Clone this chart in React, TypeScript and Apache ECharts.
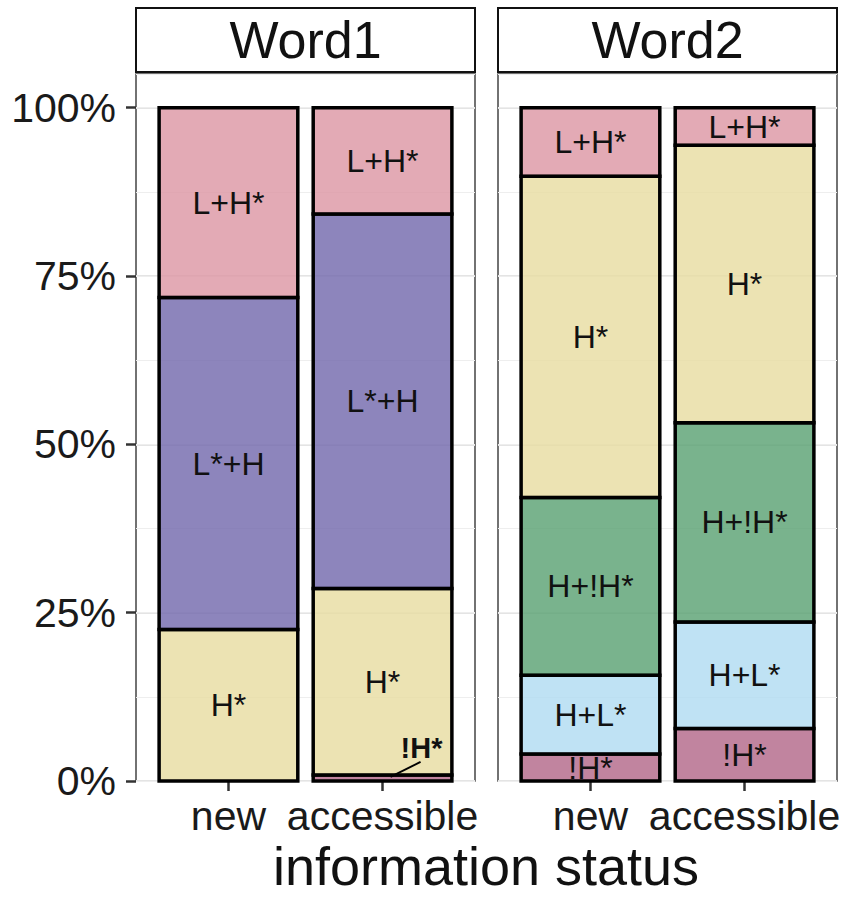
import React, { useEffect, useRef } from "react";
import * as echarts from "echarts";

const categories = ["new", "accessible"];
const facets = ["Word1", "Word2"];
const tones = ["!H*", "H+L*", "H+!H*", "H*", "L*+H", "L+H*"];
const tickValues = [0, 25, 50, 75, 100];

// percentages per category (new, accessible), stacked bottom to top
const word1_exclH = [0, 0.9];
const word1_HL = [0, 0];
const word1_HexclH = [0, 0];
const word1_H = [22.5, 27.7];
const word1_LsH = [49.3, 55.6];
const word1_LHs = [28.2, 15.8];

const word2_exclH = [4.0, 7.8];
const word2_HL = [11.7, 15.8];
const word2_HexclH = [26.4, 29.6];
const word2_H = [47.7, 41.2];
const word2_LsH = [0, 0];
const word2_LHs = [10.2, 5.6];

const toneColors: Record<string, string> = {
  "!H*": "rgba(178,101,135,0.8)",
  "H+L*": "rgba(175,219,241,0.8)",
  "H+!H*": "rgba(88,160,113,0.8)",
  "H*": "rgba(231,220,160,0.8)",
  "L*+H": "rgba(113,103,171,0.8)",
  "L+H*": "rgba(220,149,163,0.8)",
};

const FONT = "'Liberation Sans', Arial, sans-serif";

export default function App() {
  const ref = useRef<HTMLDivElement>(null);

  useEffect(() => {
    if (!ref.current) return;
    const chart = echarts.init(ref.current, null, { renderer: "svg" });

    const wordData = [
      [word1_exclH, word1_HL, word1_HexclH, word1_H, word1_LsH, word1_LHs],
      [word2_exclH, word2_HL, word2_HexclH, word2_H, word2_LsH, word2_LHs],
    ];

    // build stacked segments [categoryIndex, low, high, toneIndex]
    const segments = wordData.map((vals) => {
      const items: number[][] = [];
      categories.forEach((_, ci) => {
        let cum = 0;
        tones.forEach((_, ti) => {
          const v = vals[ti][ci];
          if (v > 0) {
            items.push([ci, cum, cum + v, ti]);
            cum += v;
          }
        });
      });
      return items;
    });

    const panels = [
      { left: 136, width: 339 },
      { left: 498, width: 339 },
    ];
    const top = 74;
    const height = 707;

    const grids: any[] = [];
    const xAxes: any[] = [];
    const yAxes: any[] = [];

    panels.forEach((p, gi) => {
      const unit = p.width / 2.2;
      grids.push({
        left: p.left,
        top,
        width: p.width,
        height,
        show: true,
        borderColor: "#444",
        borderWidth: 1.5,
        backgroundColor: "transparent",
      });
      grids.push({
        left: p.left + 0.1 * unit,
        top,
        width: 2 * unit,
        height,
        show: false,
      });

      const panelGrid = gi * 2;
      const barGrid = gi * 2 + 1;

      xAxes.push({
        type: "value",
        gridIndex: panelGrid,
        min: 0,
        max: 1,
        show: false,
      });
      xAxes.push({
        type: "category",
        gridIndex: barGrid,
        data: categories,
        boundaryGap: true,
        axisLine: { show: false },
        splitLine: { show: false },
        axisTick: {
          show: true,
          alignWithLabel: true,
          length: 10,
          lineStyle: { color: "#333", width: 2.5 },
        },
        axisLabel: {
          fontSize: 41,
          fontFamily: FONT,
          color: "#1a1a1a",
          margin: 14,
          interval: 0,
        },
      });

      yAxes.push({
        type: "value",
        gridIndex: panelGrid,
        min: 0,
        max: 105,
        interval: 25,
        axisLine: { show: false },
        axisTick: {
          show: gi === 0,
          customValues: tickValues,
          length: 10,
          lineStyle: { color: "#333", width: 2.5 },
        },
        axisLabel: {
          show: gi === 0,
          customValues: tickValues,
          formatter: (v: number) => (v > 100 ? "" : v + "%"),
          fontSize: 41,
          fontFamily: FONT,
          color: "#1a1a1a",
          margin: 20,
        },
        splitLine: { show: true, lineStyle: { color: "#e4e4e4", width: 2 } },
      });
      yAxes.push({
        type: "value",
        gridIndex: panelGrid,
        min: 0,
        max: 105,
        interval: 12.5,
        axisLine: { show: false },
        axisTick: { show: false },
        axisLabel: { show: false },
        splitLine: { show: true, lineStyle: { color: "#eeeeee", width: 1 } },
      });
      yAxes.push({
        type: "value",
        gridIndex: barGrid,
        min: 0,
        max: 105,
        interval: 25,
        axisLine: { show: false },
        axisTick: { show: false },
        axisLabel: { show: false },
        splitLine: { show: false },
      });
    });

    const series: any[] = [];
    segments.forEach((items, gi) => {
      series.push({
        type: "custom",
        name: facets[gi] + " bars",
        xAxisIndex: gi * 2 + 1,
        yAxisIndex: gi * 3 + 2,
        encode: { x: 0, y: [1, 2] },
        data: items,
        z: 2,
        renderItem: (_params: any, api: any) => {
          const ci = api.value(0);
          const p0 = api.coord([ci, api.value(1)]);
          const p1 = api.coord([ci, api.value(2)]);
          const bw = api.size([1, 0])[0] * 0.9;
          const ti = api.value(3);
          return {
            type: "rect",
            shape: { x: p0[0] - bw / 2, y: p1[1], width: bw, height: p0[1] - p1[1] },
            style: { fill: toneColors[tones[ti]], stroke: "#000", lineWidth: 3.5 },
          };
        },
      });
      series.push({
        type: "custom",
        name: facets[gi] + " labels",
        xAxisIndex: gi * 2 + 1,
        yAxisIndex: gi * 3 + 2,
        encode: { x: 0, y: [1, 2] },
        data: items,
        z: 5,
        renderItem: (_params: any, api: any) => {
          const ci = api.value(0);
          const lo = api.value(1);
          const hi = api.value(2);
          const ti = api.value(3);
          const c = api.coord([ci, (lo + hi) / 2]);
          const tiny = hi - lo < 2;
          if (!tiny) {
            return {
              type: "text",
              x: c[0],
              y: c[1],
              style: {
                text: tones[ti],
                fontSize: 32,
                fontFamily: FONT,
                fill: "#111",
                align: "center",
                verticalAlign: "middle",
              },
            };
          }
          return {
            type: "group",
            children: [
              {
                type: "line",
                shape: { x1: c[0] + 8, y1: c[1] - 1, x2: c[0] + 38, y2: c[1] - 16 },
                style: { stroke: "#000", lineWidth: 2 },
              },
              {
                type: "text",
                x: c[0] + 39,
                y: c[1] - 30,
                style: {
                  text: tones[ti],
                  fontSize: 29,
                  fontWeight: "bold",
                  fontFamily: FONT,
                  fill: "#111",
                  align: "center",
                  verticalAlign: "middle",
                },
              },
            ],
          };
        },
      });
    });

    const graphics: any[] = [];
    panels.forEach((p, gi) => {
      graphics.push({
        type: "rect",
        shape: { x: p.left, y: 8, width: p.width, height: 64 },
        style: { fill: "#fff", stroke: "#111", lineWidth: 2 },
      });
      graphics.push({
        type: "text",
        x: p.left + p.width / 2,
        y: 40,
        style: {
          text: facets[gi],
          fontSize: 52,
          fontFamily: FONT,
          fill: "#111",
          align: "center",
          verticalAlign: "middle",
        },
      });
    });
    graphics.push({
      type: "text",
      x: 486,
      y: 866,
      style: {
        text: "information status",
        fontSize: 54,
        fontFamily: FONT,
        fill: "#111",
        align: "center",
        verticalAlign: "middle",
      },
    });

    chart.setOption({
      animation: false,
      backgroundColor: "#fff",
      grid: grids,
      xAxis: xAxes,
      yAxis: yAxes,
      series,
      graphic: graphics,
    });

    return () => chart.dispose();
  }, []);

  return (
    <div
      ref={ref}
      style={{ position: "fixed", left: 0, top: 0, width: 851, height: 898 }}
    />
  );
}
